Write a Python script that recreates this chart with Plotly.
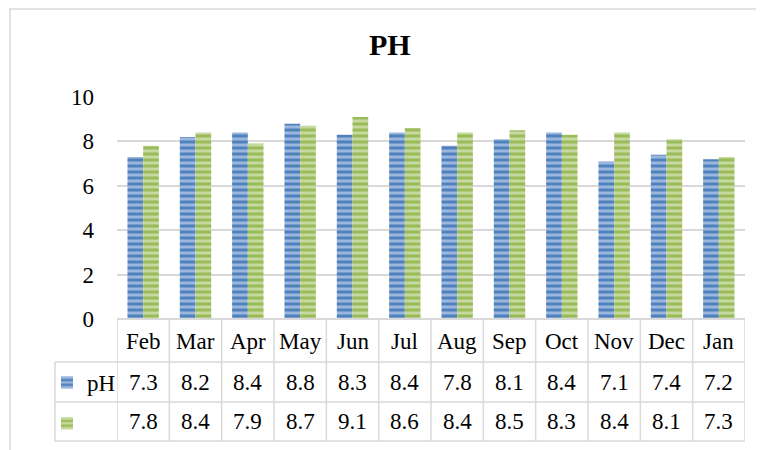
import plotly.graph_objects as go

# ---- data ----
months = ["Feb", "Mar", "Apr", "May", "Jun", "Jul", "Aug", "Sep", "Oct", "Nov", "Dec", "Jan"]
ph_values = [7.3, 8.2, 8.4, 8.8, 8.3, 8.4, 7.8, 8.1, 8.4, 7.1, 7.4, 7.2]
second_values = [7.8, 8.4, 7.9, 8.7, 9.1, 8.6, 8.4, 8.5, 8.3, 8.4, 8.1, 7.3]
series_names = ["pH", " "]
y_ticks = [0, 2, 4, 6, 8, 10]
chart_title = "PH"

# ---- layout geometry (page pixels; the figure sits 8px in from the page edge) ----
OFF = 8
W, H = 764, 450
PL, PR, PT, PB = 117, 745, 97, 319   # plot area edges in page pixels


def px2x(p):
    return (p - PL) / (PR - PL)


def py2y(p):
    return (PB - p) / (PB - PT)


FONT = "Liberation Serif"
GRID = "#d9d9d9"

blue_dark, blue_light = "#4f81bd", "#9bb7dd"
green_dark, green_light = "#9bbb59", "#c6d9a0"

fig = go.Figure()
for i, (name, vals, dark, light) in enumerate([
        (series_names[0], ph_values, blue_dark, blue_light),
        (series_names[1], second_values, green_dark, green_light)]):
    fig.add_trace(go.Bar(
        x=months, y=vals, name=name, legendgroup=f"g{i}",
        marker=dict(color=light, line=dict(width=0),
                    pattern=dict(shape="-", fgcolor=dark, bgcolor=light,
                                 size=6, solidity=0.5, fillmode="replace")),
    ))

shapes = []
line = dict(color=GRID, width=1.5)
# chart border (top + left)
shapes.append(dict(type="line", xref="paper", yref="paper",
                   x0=px2x(9), x1=px2x(800), y0=py2y(9), y1=py2y(9), line=line))
shapes.append(dict(type="line", xref="paper", yref="paper",
                   x0=px2x(10), x1=px2x(10), y0=py2y(9), y1=py2y(470), line=line))

# data table grid
row_lines = [362, 402, 441]
top_line, bottom_line = 319, 441
legend_left = 55
shapes.append(dict(type="line", xref="paper", yref="paper",
                   x0=0, x1=1, y0=py2y(top_line), y1=py2y(top_line),
                   line=dict(color=GRID, width=2)))
for r in row_lines:
    shapes.append(dict(type="line", xref="paper", yref="paper",
                       x0=px2x(legend_left), x1=1, y0=py2y(r), y1=py2y(r), line=line))
for i in range(len(months) + 1):
    shapes.append(dict(type="line", xref="x", yref="paper",
                       x0=i - 0.5, x1=i - 0.5, y0=py2y(top_line), y1=py2y(bottom_line),
                       line=line))
shapes.append(dict(type="line", xref="paper", yref="paper",
                   x0=px2x(legend_left), x1=px2x(legend_left),
                   y0=py2y(row_lines[0]), y1=py2y(bottom_line), line=line))

annotations = []
tfont = dict(family=FONT, size=23, color="black")
row_centers = [341, 382, 421.5]
for i, m in enumerate(months):
    annotations.append(dict(x=m, xref="x", y=py2y(row_centers[0]), yref="paper",
                            text=m, showarrow=False, font=tfont, yanchor="middle"))
    annotations.append(dict(x=m, xref="x", y=py2y(row_centers[1]), yref="paper",
                            text=f"{ph_values[i]}", showarrow=False, font=tfont, yanchor="middle"))
    annotations.append(dict(x=m, xref="x", y=py2y(row_centers[2]), yref="paper",
                            text=f"{second_values[i]}", showarrow=False, font=tfont, yanchor="middle"))

# title
annotations.append(dict(x=px2x(390), xref="paper", y=py2y(45), yref="paper",
                        text=f"<b>{chart_title}</b>", showarrow=False,
                        font=dict(family=FONT, size=30, color="black"),
                        xanchor="center", yanchor="middle"))

fig.update_layout(
    width=W, height=H,
    margin=dict(l=PL - OFF, r=W - (PR - OFF), t=PT - OFF, b=H - (PB - OFF), pad=0),
    paper_bgcolor="white", plot_bgcolor="white",
    font=dict(family=FONT, size=23, color="black"),
    bargap=0.4, bargroupgap=0,
    showlegend=True,
    legend=dict(x=px2x(47), y=py2y(361), xanchor="left", yanchor="top",
                xref="paper", yref="paper",
                font=dict(family=FONT, size=23, color="black"),
                tracegroupgap=8, bgcolor="rgba(0,0,0,0)", traceorder="grouped"),
    xaxis=dict(range=[-0.5, len(months) - 0.5], showticklabels=False,
               showgrid=False, zeroline=False, showline=False, ticks=""),
    yaxis=dict(range=[0, 10], tickvals=y_ticks, gridcolor=GRID, gridwidth=1.5,
               zeroline=False, showline=False, ticks="",
               ticklabelstandoff=22, tickfont=dict(family=FONT, size=23, color="black")),
    shapes=shapes, annotations=annotations,
)

fig.write_html("out.html")
